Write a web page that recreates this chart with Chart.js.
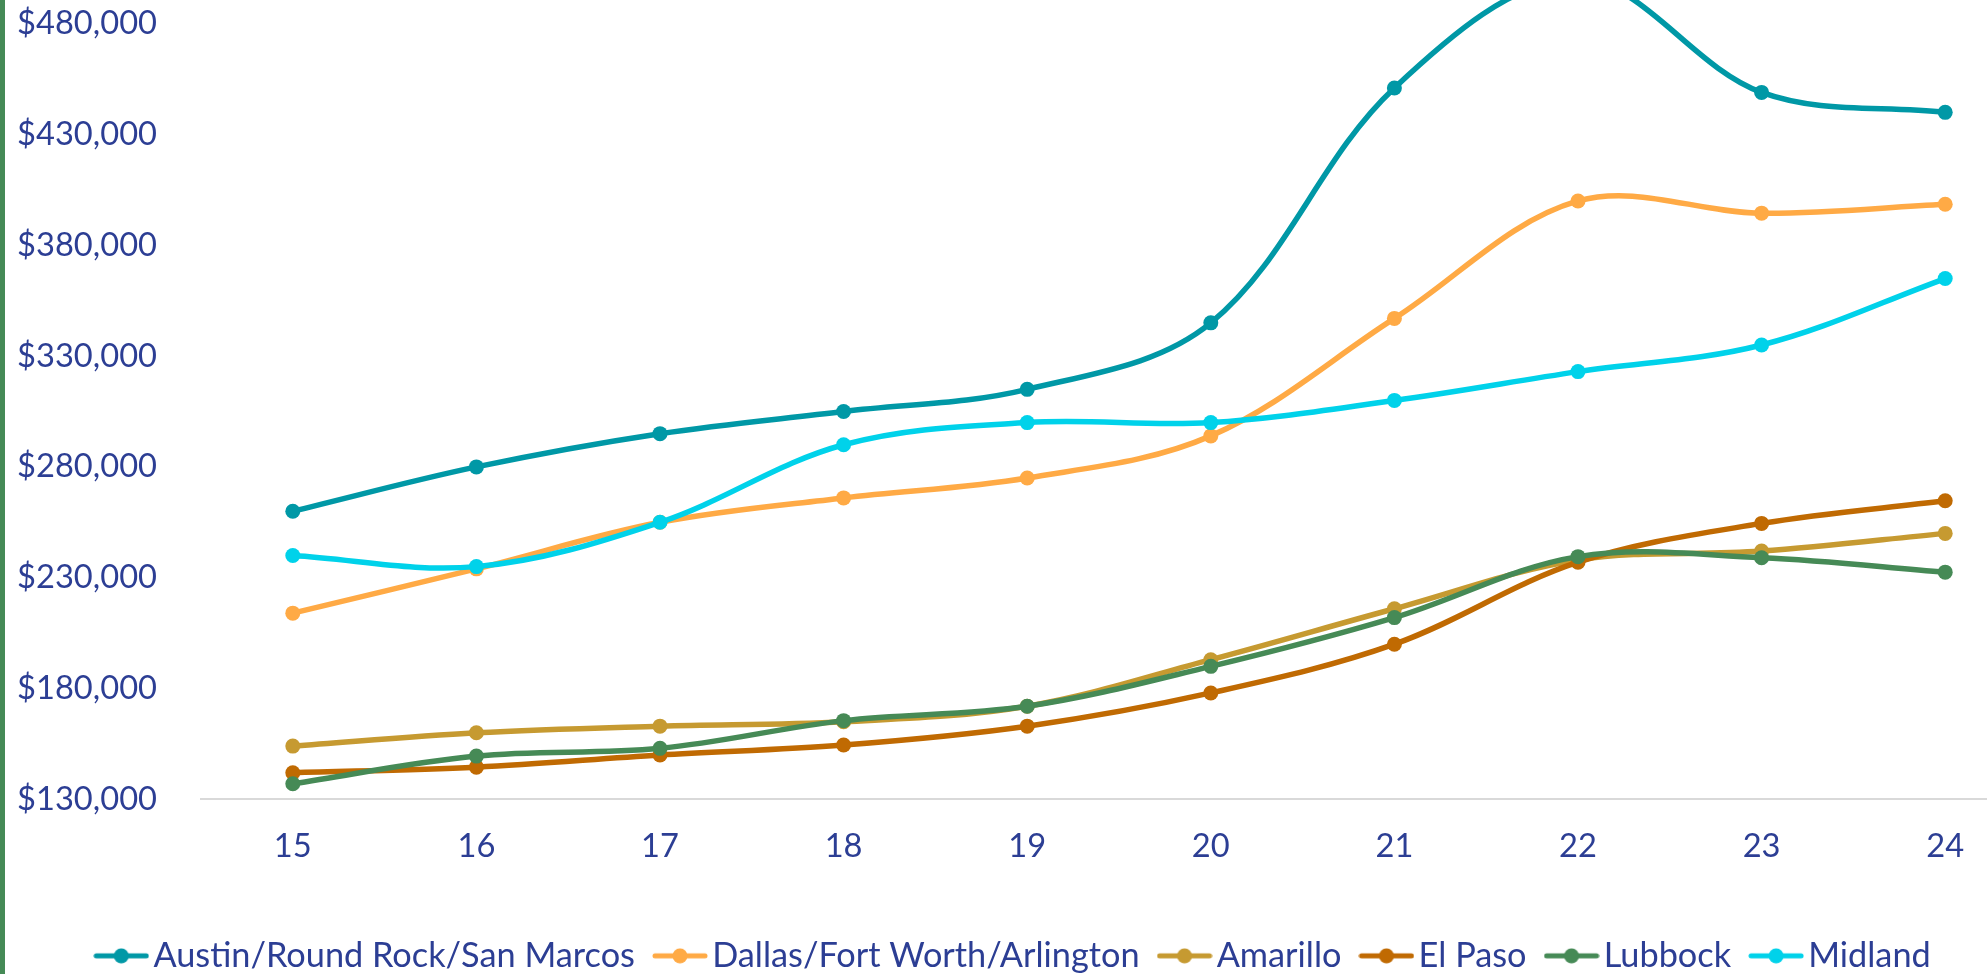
<!DOCTYPE html>
<html>
<head>
<meta charset="utf-8">
<script src="https://cdn.jsdelivr.net/npm/chart.js@4.4.1/dist/chart.umd.min.js"></script>
<style>
  html, body { margin: 0; padding: 0; width: 1987px; height: 974px; overflow: hidden; background: #ffffff; }
  #wrap { position: absolute; left: 0; top: -157px; }
  #bar { position: absolute; left: 0; top: 0; width: 5px; height: 974px; background: #458A56; z-index: 2; }
</style>
</head>
<body>
<div id="wrap"><canvas id="c"></canvas></div>
<div id="bar"></div>
<script>
// ---- data ----
const years = ['15', '16', '17', '18', '19', '20', '21', '22', '23', '24'];
const seriesNames = ['Austin/Round Rock/San Marcos', 'Dallas/Fort Worth/Arlington', 'Amarillo', 'El Paso', 'Lubbock', 'Midland'];
const austin   = [260000, 280000, 295000, 305000, 315000, 345000, 451000, 500000, 449000, 440000];
const dallas   = [214000, 234000, 255000, 266000, 275000, 294000, 347000, 400000, 394500, 398500];
const amarillo = [154000, 160000, 163000, 165000, 172000, 193000, 216000, 238000, 242000, 250000];
const elPaso   = [142000, 144500, 150000, 154500, 163000, 178000, 200000, 237000, 254500, 264700];
const lubbock  = [137000, 149500, 153000, 165500, 172000, 190000, 212000, 239500, 239000, 232500];
const midland  = [240000, 235000, 255000, 290000, 300000, 300000, 310000, 323000, 335000, 365000];
const yMin = 130000, yMax = 530000, yStep = 50000;

// ---- styling ----
const seriesValues = [austin, dallas, amarillo, elPaso, lubbock, midland];
const colors = ['#0098A6', '#FFAA45', '#C69A31', '#C06A02', '#468A56', '#00D2EA'];
const txt = '#2C3E94';
const family = 'Lato, "Open Sans", sans-serif';

function fitSize(texts, target) {
  const g = document.createElement('canvas').getContext('2d');
  g.font = '100px ' + family;
  const w = texts.reduce((s, t) => s + g.measureText(t).width, 0);
  return 100 * target / w;
}
const tickSize = fitSize(['$130,000'], 140);
const legendSize = fitSize(seriesNames, 1392);

function makeIcon(color) {
  const c = document.createElement('canvas');
  c.width = 56; c.height = 16;
  const g = c.getContext('2d');
  g.strokeStyle = color; g.lineWidth = 5; g.lineCap = 'round';
  g.beginPath(); g.moveTo(3, 8); g.lineTo(53, 8); g.stroke();
  g.fillStyle = color;
  g.beginPath(); g.arc(28, 8, 7.5, 0, Math.PI * 2); g.fill();
  return c;
}
const icons = colors.map(makeIcon);

// geometry (canvas is shifted up by T px)
const W = 2060, areaRight = 2037, T = 157;
const areaLeft = 201;
const legendPad = 30;
const Hc = Math.round(T + 966 + legendSize / 2);
const legendH = legendSize + legendPad + 10;
const areaBottom = 799.3 + T;
const areaTop = T - 87.1;
const Hx = Hc - legendH - areaBottom;

const canvas = document.getElementById('c');
canvas.width = W; canvas.height = Hc;
canvas.style.width = W + 'px'; canvas.style.height = Hc + 'px';

const datasets = seriesNames.map((name, i) => ({
  label: name,
  data: seriesValues[i],
  borderColor: colors[i],
  backgroundColor: colors[i],
  pointBackgroundColor: colors[i],
  pointBorderColor: colors[i],
  borderWidth: 5.5,
  pointRadius: 7.5,
  pointHoverRadius: 7.5,
  pointBorderWidth: 0,
  tension: 0.35,
  fill: false,
  order: seriesNames.length - i
}));

new Chart(canvas.getContext('2d'), {
  type: 'line',
  data: { labels: years, datasets },
  options: {
    responsive: false,
    animation: false,
    devicePixelRatio: 1,
    layout: { padding: { left: 0, right: W - areaRight, top: areaTop, bottom: 0 } },
    scales: {
      x: {
        offset: true,
        grid: { display: false, drawTicks: false },
        border: { display: true, color: '#D9D9D9', width: 2 },
        ticks: { color: txt, font: { family, size: tickSize }, padding: 47 - 0.6 * tickSize, maxRotation: 0, autoSkip: false },
        afterFit: (s) => { s.height = Hx; }
      },
      y: {
        min: yMin, max: yMax,
        grid: { display: false, drawTicks: false },
        border: { display: false },
        ticks: {
          stepSize: yStep,
          color: txt,
          font: { family, size: tickSize },
          padding: 44,
          callback: (v) => '$' + Number(v).toLocaleString('en-US')
        },
        afterFit: (s) => { s.width = areaLeft; }
      }
    },
    plugins: {
      tooltip: { enabled: false },
      legend: {
        position: 'bottom',
        labels: {
          usePointStyle: true,
          pointStyleWidth: 30,
          padding: legendPad,
          color: txt,
          font: { family, size: legendSize },
          generateLabels: (chart) => {
            const items = Chart.defaults.plugins.legend.labels.generateLabels(chart);
            items.forEach((it) => { it.pointStyle = icons[it.datasetIndex]; it.fontColor = txt; });
            return items.sort((a, b) => a.datasetIndex - b.datasetIndex);
          }
        }
      }
    }
  }
});
</script>
</body>
</html>
